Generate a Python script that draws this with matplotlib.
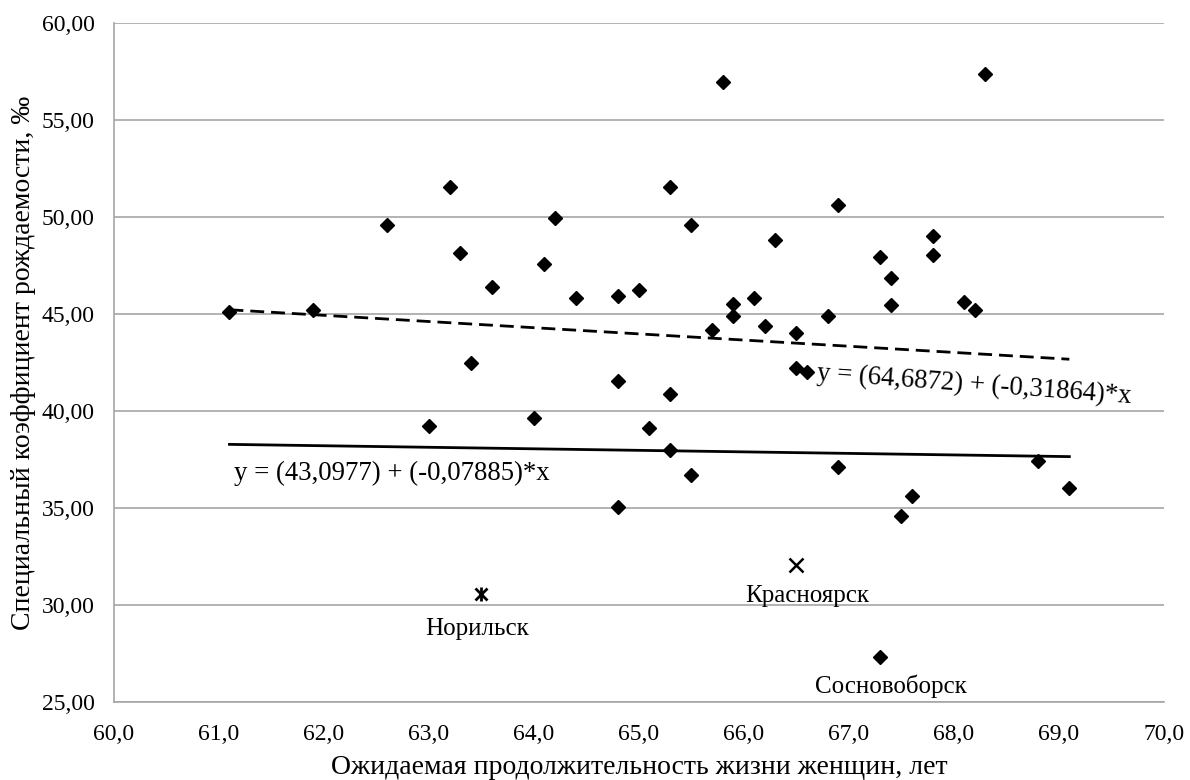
import numpy as np
import matplotlib.pyplot as plt

plt.rcParams['font.family'] = ['Liberation Serif', 'DejaVu Serif']

# life expectancy of women (years) and special fertility rate (per mille)
life_exp = [61.1, 61.9, 62.6, 63.2, 63.3, 63.4, 63.6, 63.0, 64.0, 64.1,
            64.2, 64.4, 64.8, 64.8, 64.8, 65.0, 65.1, 65.3, 65.3, 65.3,
            65.5, 65.5, 65.7, 65.8, 65.9, 65.9, 66.1, 66.2, 66.3, 66.5,
            66.5, 66.6, 66.8, 66.9, 66.9, 67.3, 67.4, 67.4, 67.5, 67.6,
            67.8, 67.8, 68.1, 68.2, 68.3, 68.8, 69.1, 67.3]
fertility = [45.10, 45.20, 49.60, 51.55, 48.15, 42.50, 46.40, 39.25, 39.65, 47.60,
             49.95, 45.85, 45.95, 41.55, 35.05, 46.25, 39.10, 51.55, 40.90, 38.00,
             49.60, 36.70, 44.15, 56.95, 45.50, 44.90, 45.80, 44.40, 48.80, 44.00,
             42.20, 42.00, 44.90, 50.60, 37.10, 47.95, 46.85, 45.45, 34.60, 35.60,
             49.00, 48.05, 45.60, 45.20, 57.35, 37.40, 36.05, 27.30]

norilsk = (63.5, 30.55)
krasnoyarsk = (66.5, 32.05)

# regression lines: y = a + b*x
fit_all = (64.6872, -0.31864)
fit_excl = (43.0977, -0.07885)
fit_range = [61.1, 69.1]

fig = plt.figure(figsize=(11.9, 7.8), dpi=100)
ax = fig.add_axes([0.0958, 0.1, 0.8822, 0.8705])

ax.set_xlim(60, 70)
ax.set_ylim(25, 60)
ax.set_xticks(np.arange(60, 70.1, 1))
ax.set_yticks(np.arange(25, 60.1, 5))
ax.set_xticklabels([f"{v:.1f}".replace('.', ',') for v in np.arange(60, 70.1, 1)])
ax.set_yticklabels([f"{v:.2f}".replace('.', ',') for v in np.arange(25, 60.1, 5)])
ax.tick_params(length=0, labelsize=17)
ax.tick_params(axis='x', pad=16)
ax.tick_params(axis='y', pad=14)
ax.yaxis.grid(True, color='#a6a6a6', linewidth=1.2)
ax.set_axisbelow(True)
for side in ['top', 'right']:
    ax.spines[side].set_visible(False)
for side in ['left', 'bottom']:
    ax.spines[side].set_color('#a6a6a6')
    ax.spines[side].set_linewidth(1.2)

xs = np.array(fit_range)
ax.plot(xs, fit_all[0] + fit_all[1] * xs, color='black', lw=2, ls=(0, (5, 2.5)), zorder=2)
ax.plot(xs, fit_excl[0] + fit_excl[1] * xs, color='black', lw=2, zorder=2)

ax.plot(life_exp, fertility, 'D', color='black', markersize=7.5, zorder=3)
ax.plot(*norilsk, 'x', color='black', markersize=9, mew=2, zorder=3)
ax.plot(*norilsk, '|', color='black', markersize=10, mew=2, zorder=3)
ax.plot(*krasnoyarsk, 'x', color='black', markersize=10, mew=1.8, zorder=3)

ax.text(63.46, 28.75, 'Норильск', fontsize=18, ha='center', va='center')
ax.text(66.6, 30.45, 'Красноярск', fontsize=18, ha='center', va='center')
ax.text(67.4, 25.8, 'Сосновоборск', fontsize=18, ha='center', va='center')

ax.text(61.14, 36.8, 'y = (43,0977) + (-0,07885)*x', fontsize=19.3, ha='left', va='center')
ax.text(66.70, 41.95, 'y = (64,6872) + (-0,31864)*x', fontsize=19.3, ha='left', va='center',
        rotation=-4.2, rotation_mode='anchor')

ax.set_xlabel('Ожидаемая продолжительность жизни женщин, лет', fontsize=20, labelpad=7)
ax.set_ylabel('Специальный коэффициент рождаемости, ‰', fontsize=20, labelpad=4)

fig.savefig('out.png', dpi=100)
